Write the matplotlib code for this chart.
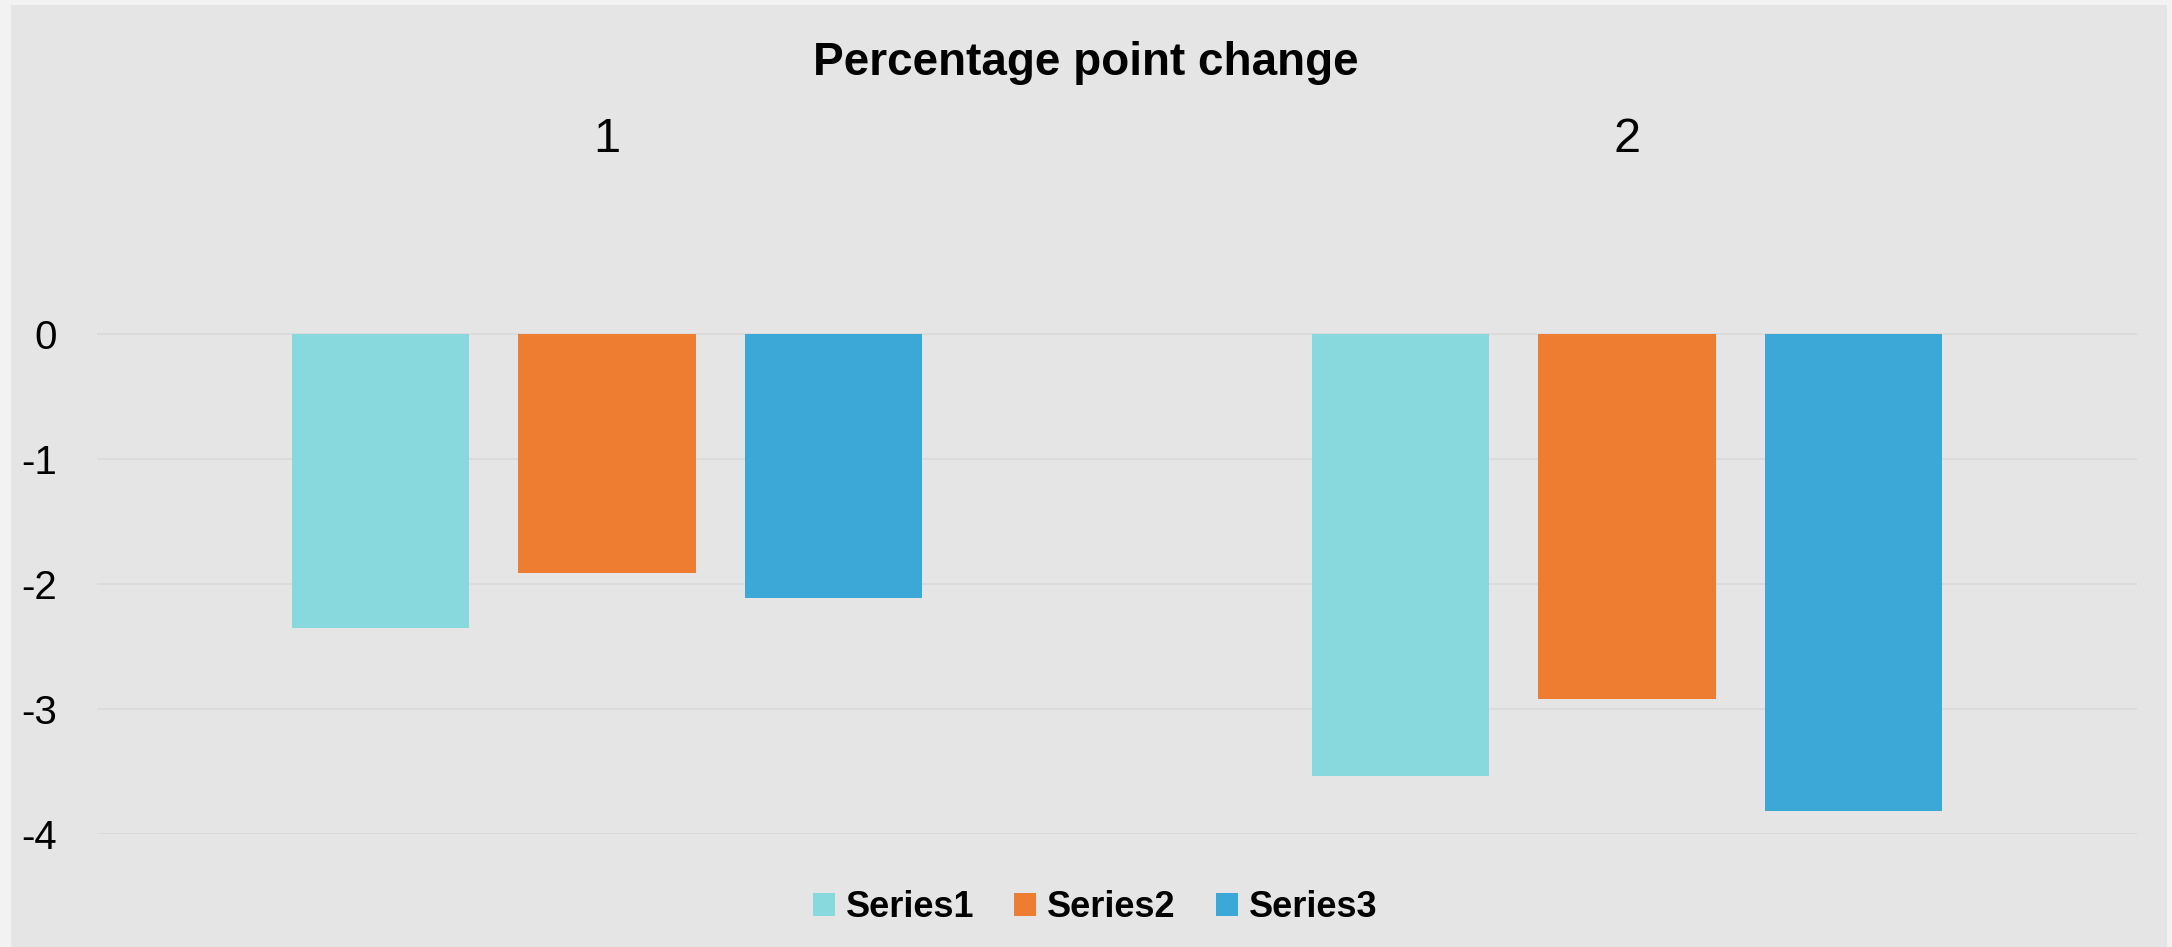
import numpy as np
import matplotlib
matplotlib.use("Agg")
import matplotlib.pyplot as plt
from matplotlib.patches import Rectangle

plt.rcParams['font.family'] = ['Liberation Sans', 'DejaVu Sans']

#-------------------------------Data--------------------------------
categories = ['1', '2']
series_names = ['Series1', 'Series2', 'Series3']
series1 = [-2.35, -3.53]
series2 = [-1.91, -2.92]
series3 = [-2.11, -3.81]
y_ticks = [0, -1, -2, -3, -4]

colors = ['#87d9dd', '#ee7d31', '#3ca8d7']
bg = '#e5e5e5'

#-------------------------------Figure--------------------------------
W, H = 2172, 947
fig = plt.figure(figsize=(W / 100, H / 100), dpi=100)
fig.patch.set_facecolor('#f2f2f2')
# inner panel (thin lighter border at top / sides)
fig.patches.append(Rectangle((11 / W, 0), (2167 - 11) / W, (H - 5) / H,
                             transform=fig.transFigure, facecolor=bg,
                             edgecolor='none', zorder=-10))

ax = fig.add_axes([97 / W, 0.1188, 2040 / W, 0.6605])
ax.set_facecolor(bg)

x = np.arange(1, len(categories) + 1)
width = 0.174
step = 0.222
for i, vals in enumerate([series1, series2, series3]):
    ax.bar(x + (i - 1) * step, vals, width, color=colors[i],
           label=series_names[i], zorder=3)

ax.set_xlim(0.5, 2.5)
ax.set_ylim(-4, 1)
ax.set_yticks(y_ticks)
ax.set_yticklabels([str(t) for t in y_ticks], fontsize=29)
ax.yaxis.grid(True, color='#d8d8d8', linewidth=1.1, zorder=0)
ax.set_axisbelow(True)

ax.xaxis.tick_top()
ax.set_xticks(x)
ax.set_xticklabels(categories, fontsize=35)
ax.tick_params(axis='x', length=0, pad=34)
ax.tick_params(axis='y', length=0, pad=29)
for s in ax.spines.values():
    s.set_visible(False)

fig.text(0.5, 1 - 75 / H, 'Percentage point change', ha='center',
         va='baseline', fontsize=33, fontweight='bold')

leg = ax.legend(loc='lower center', bbox_to_anchor=(1095 / W, 4 / H),
                bbox_transform=fig.transFigure, ncol=3, frameon=False,
                prop={'weight': 'bold', 'size': 26}, handlelength=0.62,
                handleheight=0.62, handletextpad=0.3, columnspacing=1.1,
                borderpad=0)

fig.savefig('out.png', dpi=100, facecolor=fig.get_facecolor())
